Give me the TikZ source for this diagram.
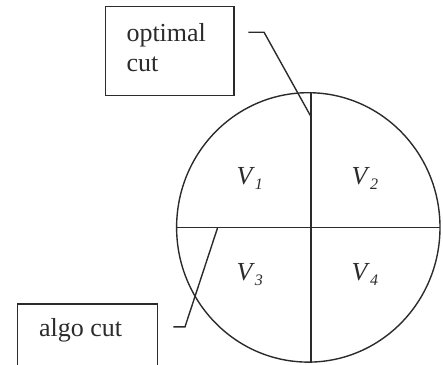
\documentclass[tikz,border=0pt]{standalone}
\usepackage{fontspec}
\setmainfont{Liberation Serif}
\usetikzlibrary{shapes.geometric}
\definecolor{ink}{HTML}{2B2B2B}
\newcommand{\vsub}[1]{\textit{V}\raisebox{-5pt}{\fontsize{16}{16}\selectfont\textit{#1}}}
\begin{document}
\begin{tikzpicture}[x=1pt,y=-1pt,
  every node/.style={inner sep=0pt, outer sep=0pt},
  ln/.style={draw=ink, line width=1.4pt},
  box/.style={rectangle, draw=ink, line width=1.4pt},
  txt/.style={anchor=base west, text=ink, font=\fontsize{26}{30}\selectfont},
  vlab/.style={anchor=base west, text=ink, font=\fontsize{26}{30}\selectfont}]
\useasboundingbox (0,0) rectangle (443,364);
% circle
\node[ellipse, draw=ink, line width=1.4pt, minimum width=263.4pt, minimum height=269.4pt] (C) at (308.3,227.4) {};
% cuts
\coordinate (vt) at (311,93.2);
\coordinate (vb) at (311,361.8);
\draw[ln] (vt) -- (vb);
\draw[ln] (C.west) -- (C.east);
% boxes
\node[box, minimum width=128.3pt, minimum height=89pt] (optbox) at (169.85,51.2) {};
\node[txt] (opt1) at (126.5,41.7) {optimal};
\node[txt] (opt2) at (126.5,71.7) {cut};
\node[box, minimum width=140pt, minimum height=80pt] (algobox) at (87.3,344) {};
\node[txt] (algo) at (39,336.7) {algo cut};
% leaders
\coordinate (o1) at (248.3,32.2);
\coordinate (o2) at (264,32.2);
\coordinate (o3) at (311,116.7);
\draw[ln] (o1) -- (o2) -- (o3);
\coordinate (a1) at (173.3,326.8);
\coordinate (a2) at (185,326.8);
\coordinate (a3) at (217.7,227.4);
\draw[ln] (a1) -- (a2) -- (a3);
% labels
\node[vlab] (v1) at (236.5,184) {\vsub{1}};
\node[vlab] (v2) at (351.7,184) {\vsub{2}};
\node[vlab] (v3) at (236.5,280.5) {\vsub{3}};
\node[vlab] (v4) at (351.7,280.5) {\vsub{4}};
\end{tikzpicture}
\end{document}
